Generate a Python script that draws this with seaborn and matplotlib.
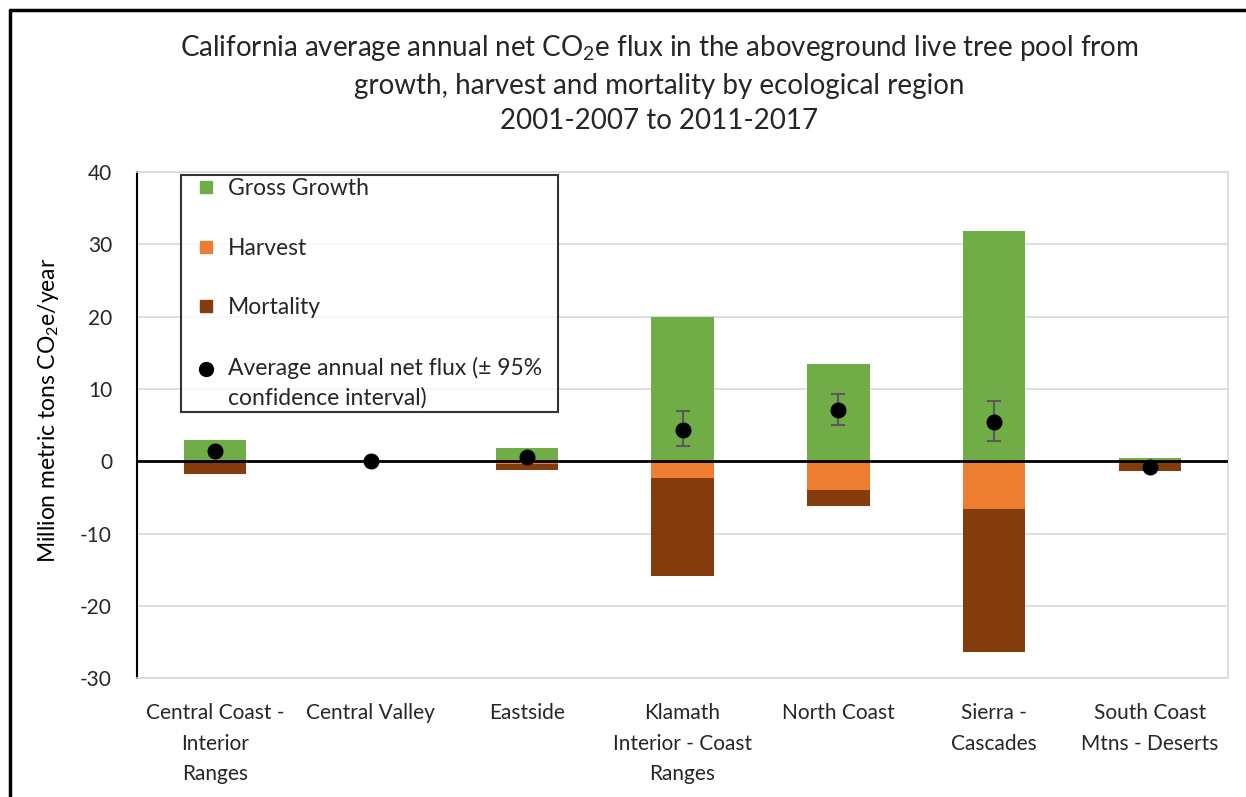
import numpy as np
import pandas as pd
import matplotlib
matplotlib.use("Agg")
import matplotlib.pyplot as plt
import seaborn as sns
from matplotlib.lines import Line2D

regions = ["Central Coast -\nInterior\nRanges", "Central Valley", "Eastside",
           "Klamath\nInterior - Coast\nRanges", "North Coast", "Sierra -\nCascades",
           "South Coast\nMtns - Deserts"]
gross_growth = [3.0, 0.0, 1.9, 20.0, 13.4, 31.8, 0.4]
harvest = [-0.05, 0.0, -0.4, -2.3, -4.0, -6.6, -0.05]
mortality = [-1.75, 0.0, -0.8, -13.5, -2.2, -19.8, -1.25]
net_flux = [1.4, 0.0, 0.6, 4.3, 7.1, 5.5, -0.8]
ci_low = [1.4, 0.0, 0.6, 2.1, 5.0, 2.8, -0.8]
ci_high = [1.4, 0.0, 0.6, 7.0, 9.3, 8.3, -0.8]

sns.set_style("white")
plt.rcParams["font.family"] = ["Lato", "DejaVu Sans"]
plt.rcParams["mathtext.fontset"] = "custom"
plt.rcParams["mathtext.rm"] = "Lato"
plt.rcParams["mathtext.it"] = "Lato"
plt.rcParams["axes.unicode_minus"] = False

green = "#70AD47"
orange = "#ED7D31"
brown = "#843C0C"

df = pd.DataFrame({"region": regions, "growth": gross_growth, "harvest": harvest,
                   "mortality": mortality})
df["harv_mort"] = df["harvest"] + df["mortality"]

fig = plt.figure(figsize=(12.46, 7.97), dpi=100)
ax = fig.add_axes([0.110, 0.149, 0.8756, 0.635])

# mortality drawn as the full negative stack, harvest on top of it
for col, c in [("growth", green), ("harv_mort", brown), ("harvest", orange)]:
    sns.barplot(data=df, x="region", y=col, color=c, width=0.4, ax=ax,
                saturation=1, linewidth=0)

ax.axhline(0, color="black", lw=2, zorder=3)

x = np.arange(len(regions))
yerr = [np.array(net_flux) - np.array(ci_low), np.array(ci_high) - np.array(net_flux)]
ax.errorbar(x, net_flux, yerr=yerr, fmt="none", ecolor="#595959", elinewidth=1.5,
            capsize=5, capthick=1.5, zorder=4)
ax.scatter(x, net_flux, s=110, color="black", zorder=5)

ax.set_ylim(-30, 40)
ax.set_xlim(-0.5, 6.5)
ax.set_yticks(range(-30, 41, 10))
ax.yaxis.grid(True, color="#D9D9D9", lw=1.2)
ax.set_axisbelow(True)
ax.tick_params(axis="both", length=0, labelsize=15, colors="#262626")
ax.tick_params(axis="x", pad=18)
ax.tick_params(axis="y", pad=18)
for lab in ax.get_xticklabels():
    lab.set_linespacing(1.66)
ax.set_xlabel("")
ax.set_ylabel("Million metric tons CO$_\\mathregular{2}$e/year", fontsize=16.5, color="black")
ax.yaxis.label.set_va("center")
ax.yaxis.set_label_coords(-0.0816, 0.53)
for s in ["top", "right", "bottom"]:
    ax.spines[s].set_color("#D9D9D9")
    ax.spines[s].set_linewidth(1.2)
ax.spines["left"].set_color("black")
ax.spines["left"].set_linewidth(1.5)

handles = [
    Line2D([], [], marker="s", ls="none", color=green, markersize=9),
    Line2D([], [], marker="s", ls="none", color=orange, markersize=9),
    Line2D([], [], marker="s", ls="none", color=brown, markersize=9),
    Line2D([], [], marker="o", ls="none", color="black", markersize=10),
]
labels = ["Gross Growth", "Harvest", "Mortality",
          "Average annual net flux (\u00b1 95%\nconfidence interval)"]
leg = ax.legend(handles, labels, loc="upper left", bbox_to_anchor=(0.040, 0.528, 0.346, 0.467),
                mode="expand", fontsize=16.5, frameon=True, fancybox=False, edgecolor="black",
                labelspacing=1.68, handletextpad=0.0, handlelength=1.9,
                borderpad=0.15, borderaxespad=0)
leg.get_frame().set_linewidth(1.5)
leg.set_zorder(6)
for t in leg.get_texts():
    t.set_linespacing(1.48)
    t.set_color("#262626")
# lift the dot to the first line of its two-line label
dot = leg.legend_handles[3]
dot.set_ydata(np.asarray(dot.get_ydata()) + 10.5)

fig.text(0.529, 0.895,
         "California average annual net CO$_\\mathregular{2}$e flux in the aboveground live tree pool from\n"
         "growth, harvest and mortality by ecological region\n2001-2007 to 2011-2017",
         ha="center", va="center", fontsize=20, linespacing=1.45, color="#262626")

# chart frame (top and left edges visible)
fig.add_artist(Line2D([10 / 1246, 10 / 1246], [0, 1 - 10 / 797], color="black", lw=2.5,
                      transform=fig.transFigure))
fig.add_artist(Line2D([10 / 1246, 1], [1 - 10 / 797, 1 - 10 / 797], color="black", lw=2.5,
                      transform=fig.transFigure))

fig.savefig("out.png", dpi=100)
